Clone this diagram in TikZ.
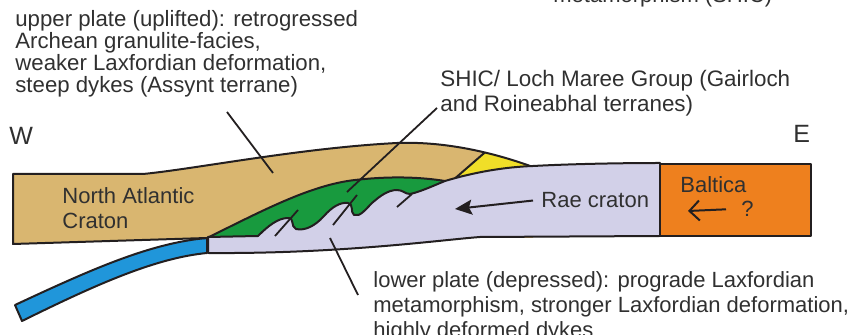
\documentclass[tikz,border=0pt]{standalone}
\usepackage{fontspec}
\setmainfont{Liberation Sans}
\usetikzlibrary{arrows.meta}
\definecolor{nacTan}{RGB}{217,182,112}
\definecolor{shicGreen}{RGB}{24,154,62}
\definecolor{raeLilac}{RGB}{210,208,232}
\definecolor{wedgeYellow}{RGB}{240,222,40}
\definecolor{slabBlue}{RGB}{32,150,218}
\definecolor{balticaOrange}{RGB}{238,128,30}
\definecolor{inkDark}{RGB}{35,31,32}
\definecolor{txtGrey}{RGB}{48,48,48}

\begin{document}
\begin{tikzpicture}[x=0.5pt, y=-0.5pt,
    rim/.style={draw=inkDark, line width=1pt, line join=round},
    leader/.style={draw=inkDark, line width=0.9pt},
    lbl/.style={inner sep=0pt, anchor=base west, align=left, text=txtGrey,
                font=\fontsize{11}{12.5}\selectfont}
  ]
  \useasboundingbox (0,0) rectangle (866,335);

  % subducting slab
  \filldraw[rim, fill=slabBlue] (207,238) .. controls (150,243) and (90,270) .. (15,305)
    -- (22,321) .. controls (95,285) and (155,258) .. (207,253) -- cycle;

  % upper plate, yellow wedge cut by its top
  \begin{scope}
    \clip (13,174) -- (143,174) .. controls (195,169) and (300,148) .. (397,143)
      .. controls (450,141) and (500,155) .. (533,167) -- (533,238) -- (207,238) -- (13,244) -- cycle;
    \fill[nacTan] (0,130) rectangle (540,250);
    \fill[wedgeYellow] (452,181) -- (490,148) -- (540,148) -- (540,181) -- cycle;
    \draw[rim] (452,181) -- (490,148);
  \end{scope}
  \draw[rim] (207,238) -- (13,244) -- (13,174) -- (143,174)
    .. controls (195,169) and (300,148) .. (397,143)
    .. controls (450,141) and (500,155) .. (533,167);

  % SHIC belt
  \fill[shicGreen] (207,238) .. controls (260,212) and (310,185) .. (355,180)
    .. controls (390,176) and (420,177) .. (445,181) -- (445,240) -- cycle;
  \draw[rim] (207,238) .. controls (260,212) and (310,185) .. (355,180)
    .. controls (390,176) and (420,177) .. (445,181);

  % lower plate with folded top
  \filldraw[rim, fill=raeLilac] (208,237) -- (258,236)
    .. controls (268,226) and (278,218) .. (288,218)
    .. controls (295,218) and (290,226) .. (296,229)
    .. controls (305,231) and (315,226) .. (324,216)
    .. controls (332,207) and (340,202) .. (348,203)
    .. controls (354,204) and (350,212) .. (354,215)
    .. controls (360,217) and (365,210) .. (372,203)
    .. controls (380,196) and (388,190) .. (397,190)
    .. controls (403,190) and (405,194) .. (410,194)
    .. controls (420,192) and (435,185) .. (445,181)
    .. controls (475,172) and (505,167) .. (533,166)
    .. controls (570,164) and (620,163) .. (660,163)
    -- (660,236) -- (480,237)
    .. controls (440,240) and (340,254) .. (208,253) -- cycle;

  \filldraw[rim, fill=balticaOrange] (660,164) rectangle (811,236);

  % dykes
  \draw[leader] (275,236) -- (298,210);
  \draw[leader] (333,225) -- (357,195);
  \draw[leader] (397,207) -- (412,194);

  % labels (multi-line ones sit on their last baseline)
  \node[lbl] (meta) at (553,3) {metamorphism (SHIC)};
  \node[lbl, font=\fontsize{11.1}{11}\selectfont] (upper) at (15,93)
    {upper plate (uplifted): retrogressed\\Archean granulite-facies,\\
     weaker Laxfordian deformation,\\steep dykes (Assynt terrane)};
  \node[lbl, font=\fontsize{11.2}{12.5}\selectfont] (shic) at (440,112)
    {SHIC/ Loch Maree Group (Gairloch\\and Roineabhal terranes)};
  \node[lbl] (lower) at (373,338)
    {lower plate (depressed): prograde Laxfordian\\
     metamorphism, stronger Laxfordian deformation,\\highly deformed dykes};
  \node[lbl, font=\fontsize{12.5}{12.5}\selectfont] (west) at (9,145) {W};
  \node[lbl, font=\fontsize{12.5}{12.5}\selectfont] (east) at (793,143) {E};
  \node[lbl] (nac) at (62,229) {North Atlantic\\Craton};
  \node[lbl, inner xsep=4pt] (rae) at (533,208) {Rae craton};
  \node[lbl] (baltica) at (680,193) {Baltica};
  \node[lbl, inner xsep=7.5pt] (qmark) at (726,217) {?};

  % leaders and motion arrows
  \coordinate (upFoot) at (227,112);
  \coordinate (upTip) at (273,173);
  \coordinate (shicFoot) at (437,108);
  \coordinate (shicTip) at (347,192);
  \coordinate (lowFoot) at (358,295);
  \coordinate (lowTip) at (330,238);
  \coordinate (raeTip) at (455,209);
  \coordinate (baltTip) at (688,211);
  \draw[leader] (upFoot) -- (upTip);
  \draw[leader] (shicFoot) -- (shicTip);
  \draw[leader] (lowFoot) -- (lowTip);
  \draw[leader, line width=1pt, -{Stealth[length=8.5pt, width=7.5pt, inset=1.5pt]}] (rae.west) -- (raeTip);
  \draw[leader, line width=1pt, -{Straight Barb[length=5pt, width=10pt]}] (qmark.west) -- (baltTip);
\end{tikzpicture}
\end{document}
